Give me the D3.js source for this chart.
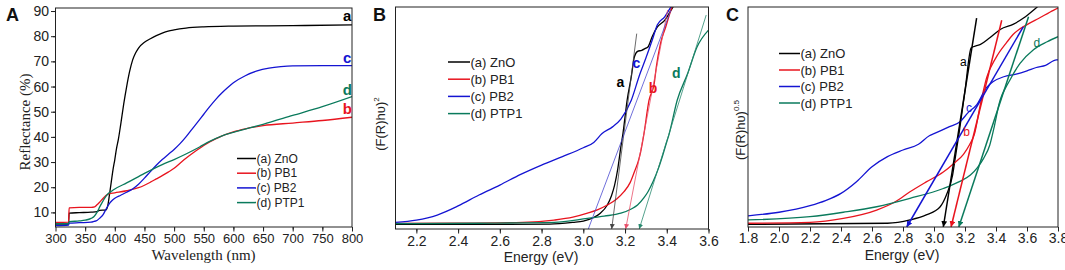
<!DOCTYPE html>
<html><head><meta charset="utf-8">
<script src="https://cdn.jsdelivr.net/npm/d3@7"></script>
<style>body{margin:0;background:#fff;} svg{display:block;}</style>
</head><body>
<svg id="chart" width="1065" height="270"></svg>
<script>
// ---------------- DATA ----------------
const seriesKeys = ["a", "b", "c", "d"];
const legendLabels = ["(a) ZnO", "(b) PB1", "(c) PB2", "(d) PTP1"];

// Panel A: wavelength (nm) vs reflectance (%)
const A_ZnO = [[300,5.4],[322,5.4],[323,9.7],[340,9.9],[360,10.1],[370,10.3],[374,10.8],[385,11],[388,12.5],[391,17],[394,22],[397,27],[400,31],[403,35.5],[406,39],[410,45],[415,53],[420,60],[425,66],[430,70.5],[435,73.3],[440,75.3],[450,77.6],[460,79],[470,80.2],[480,81.2],[490,82],[500,82.5],[520,83.2],[550,83.7],[600,84],[700,84.2],[800,84.5]];
const A_PB1 = [[300,6],[322,6.1],[323,11.8],[340,12],[360,12],[366,12.2],[370,13],[375,14.2],[380,15.5],[385,16.7],[390,17.4],[400,17.8],[420,18.6],[440,19.8],[450,20.8],[460,22],[470,23.3],[480,24.6],[490,26],[500,27.5],[510,29.5],[520,31.5],[530,33.3],[540,35],[550,36.6],[560,38],[570,39.2],[580,40.3],[600,42],[620,43.2],[650,44.5],[700,45.5],[750,46.5],[800,47.8]];
const A_PB2 = [[300,4.8],[322,5],[323,5.7],[340,5.9],[360,6.1],[365,6.4],[370,6.8],[375,7.8],[380,9],[385,11.2],[390,13.2],[395,14.6],[400,15.6],[410,16.8],[420,18],[430,19.3],[440,21.2],[450,23.6],[460,26.2],[470,28.7],[480,31],[490,33],[500,35],[510,37.3],[520,40],[530,43],[540,46],[550,49],[560,52],[570,54.8],[580,57.3],[590,59.5],[600,61.5],[620,64.3],[640,66.2],[660,67.3],[680,67.9],[700,68.2],[750,68.3],[800,68.3]];
const A_PTP1 = [[300,5.5],[322,5.6],[323,6.3],[340,6.6],[350,6.9],[360,7.6],[365,8.4],[370,10],[375,12.4],[380,14.5],[385,16.4],[390,17.7],[395,18.5],[400,19.3],[420,21.7],[450,25.5],[480,29],[500,31],[520,33.2],[543,36],[560,38.2],[580,40.3],[600,41.8],[650,45],[700,48.5],[750,52],[800,56]];
const A_xTicks = [300,350,400,450,500,550,600,650,700,750,800];
const A_yTicks = [10,20,30,40,50,60,70,80,90];
const A_endLabels = [["a",792,88.4],["c",792,71.7],["d",792,59.0],["b",792,51.1]];

// Panel B: energy (eV) vs (F(R)hv)^2 (arbitrary units)
const B_ZnO = [[2.1,2.1],[2.5,2.1],[2.84,2.2],[2.95,3],[3.0,3.6],[3.05,5.2],[3.08,7],[3.115,10.8],[3.135,15],[3.15,19.8],[3.165,27],[3.18,37],[3.19,43],[3.21,58],[3.23,68.6],[3.245,77.6],[3.26,80],[3.28,80.5],[3.3,81.5],[3.31,82],[3.33,86.6],[3.355,91],[3.39,94],[3.43,100],[3.45,103]];
const B_PB1 = [[2.1,2.5],[2.39,2.6],[2.71,3],[2.86,4],[2.95,5.3],[3.02,7.1],[3.07,8.7],[3.115,10.8],[3.16,13.5],[3.195,16.8],[3.225,21],[3.245,25.8],[3.265,31],[3.275,34.8],[3.29,42.5],[3.315,58],[3.34,65.6],[3.35,73],[3.37,83.6],[3.395,91],[3.425,100],[3.45,105]];
const B_PB2 = [[2.1,3],[2.2,4],[2.3,6.3],[2.4,10.4],[2.5,15.3],[2.6,19.8],[2.7,24.6],[2.8,28.8],[2.9,32.6],[3.0,36.6],[3.05,39],[3.09,43],[3.14,46],[3.18,49.5],[3.23,58],[3.27,69.5],[3.3,77],[3.33,85],[3.355,92],[3.39,95.6],[3.42,100],[3.45,104]];
const B_PTP1 = [[2.1,2.4],[2.5,2.6],[2.86,3],[3.02,4.8],[3.1,5.8],[3.18,7.1],[3.23,9],[3.26,10.8],[3.29,14],[3.31,16.8],[3.335,21.5],[3.36,27.3],[3.38,33],[3.4,39.3],[3.41,42.3],[3.45,58],[3.5,70],[3.545,82],[3.6,89.6]];
const B_tangents = {a:[[3.256,88],[3.136,0]], b:[[3.404,98.6],[3.203,0]], c:[[3.42,98.6],[3.024,0]], d:[[3.589,96.4],[3.268,0]]};
const B_xTicks = [2.2,2.4,2.6,2.8,3.0,3.2,3.4,3.6];
const B_labels = [["a",3.178,66.4],["c",3.255,74.7],["b",3.334,63.6],["d",3.446,70.1]];

// Panel C: energy (eV) vs (F(R)hv)^0.5 (arbitrary units)
const C_ZnO = [[1.8,1.2],[2.7,1.7],[2.845,3.2],[2.95,5.5],[3.04,9.2],[3.08,14.5],[3.12,23.6],[3.14,32.7],[3.16,41.8],[3.2,62],[3.24,81.5],[3.27,82.3],[3.3,83],[3.36,86],[3.43,89.9],[3.51,92.1],[3.58,95.1],[3.66,99.7],[3.7,102]];
const C_PB1 = [[1.8,1.7],[2.2,2.1],[2.415,3.9],[2.63,7.7],[2.75,11.5],[2.845,16],[2.95,20.5],[3.06,25],[3.13,29],[3.19,33],[3.23,37.5],[3.26,42],[3.3,56],[3.34,68],[3.4,77],[3.47,84],[3.51,87.5],[3.6,92],[3.68,95],[3.77,98.5],[3.8,99.5]];
const C_PB2 = [[1.8,5.1],[2.0,6.7],[2.2,9.7],[2.3,12],[2.4,15.3],[2.5,20.6],[2.6,27.4],[2.7,32],[2.8,35],[2.9,37.6],[2.97,41.5],[3.0,42.4],[3.1,45.6],[3.17,48],[3.22,52],[3.275,55.5],[3.34,63.5],[3.38,66],[3.45,68.3],[3.53,69.5],[3.6,71],[3.66,72.5],[3.72,73.5],[3.79,76],[3.8,76]];
const C_PTP1 = [[1.8,3.2],[2.2,4.7],[2.415,6.7],[2.63,9.2],[2.845,13],[3.06,17.5],[3.16,20.5],[3.235,23.6],[3.28,27],[3.32,31.2],[3.36,37.3],[3.39,46],[3.42,56],[3.49,66.8],[3.555,74.4],[3.64,80.5],[3.73,84.2],[3.8,86.5]];
const C_tangents = {a:[[3.275,94.9],[3.06,0]], b:[[3.437,94],[3.11,0]], c:[[3.576,91],[2.824,0]], d:[[3.61,95.6],[3.16,0]]};
const C_xTicks = [1.8,2.0,2.2,2.4,2.6,2.8,3.0,3.2,3.4,3.6,3.8];
const C_labels = [["a",3.189,75.1],["b",3.211,43.2],["c",3.226,54],["d",3.663,83.8]];

// ---------------- STYLE / LAYOUT ----------------
const colors = {a:"#000000", b:"#e8141e", c:"#1414d2", d:"#0a7a5c"};
const thinTangentColors = {a:"#444444", b:"#e8506a", c:"#4a4ad0", d:"#2a8a70"};
const SANS = "'Liberation Sans', Arial, sans-serif";
const SERIF = "'Liberation Serif', 'Times New Roman', serif";
const svg = d3.select("#chart");
const defs = svg.append("defs");

function addMarker(id, color, size) {
  defs.append("marker").attr("id", id)
    .attr("viewBox", "0 0 10 10").attr("refX", 10).attr("refY", 5)
    .attr("markerWidth", size).attr("markerHeight", size)
    .attr("markerUnits", "userSpaceOnUse").attr("orient", "auto")
    .append("path").attr("d", "M0,0 L10,5 L0,10 z").attr("fill", color);
}

function panel(o) {
  const x = d3.scaleLinear().domain(o.xDomain).range(o.xRange);
  const y = d3.scaleLinear().domain(o.yDomain).range(o.yRange);
  const g = svg.append("g");
  const clipId = "clip" + o.name;
  defs.append("clipPath").attr("id", clipId).append("rect")
    .attr("x", o.xRange[0]).attr("y", o.yRange[1])
    .attr("width", o.xRange[1] - o.xRange[0]).attr("height", o.yRange[0] - o.yRange[1]);

  // x axis: minor then major
  g.append("g").attr("transform", `translate(0,${o.yRange[0]})`)
    .call(d3.axisBottom(x).tickValues(o.xMinor).tickSize(2.5).tickFormat("").tickSizeOuter(0))
    .call(s => s.select(".domain").remove());
  const xa = g.append("g").attr("transform", `translate(0,${o.yRange[0]})`)
    .call(d3.axisBottom(x).tickValues(o.xTicks).tickSize(4.5).tickPadding(o.xPad).tickSizeOuter(0)
      .tickFormat(o.xFmt));
  xa.select(".domain").remove();
  xa.selectAll("text").attr("font-family", SANS).attr("font-size", o.xFont).attr("fill", "#222");
  if (o.yTicks) {
    g.append("g").attr("transform", `translate(${o.xRange[0]},0)`)
      .call(d3.axisLeft(y).tickValues(o.yMinor).tickSize(2.5).tickFormat("").tickSizeOuter(0))
      .call(s => s.select(".domain").remove());
    const ya = g.append("g").attr("transform", `translate(${o.xRange[0]},0)`)
      .call(d3.axisLeft(y).tickValues(o.yTicks).tickSize(4.5).tickPadding(2).tickSizeOuter(0));
    ya.select(".domain").remove();
    ya.selectAll("text").attr("font-family", SANS).attr("font-size", 14).attr("fill", "#222");
  }
  g.selectAll(".tick line").attr("stroke", "#222");

  const line = d3.line().x(d => x(d[0])).y(d => y(d[1])).curve(d3.curveMonotoneX);
  const plot = g.append("g").attr("clip-path", `url(#${clipId})`);
  seriesKeys.forEach((k, i) => {
    plot.append("path").datum(o.series[i]).attr("d", line)
      .attr("fill", "none").attr("stroke", colors[k]).attr("stroke-width", 1.3)
      .attr("stroke-linejoin", "round");
  });
  if (o.tangents) {
    seriesKeys.forEach(k => {
      const t = o.tangents[k];
      const col = o.thinTangents ? thinTangentColors[k] : colors[k];
      const mid = "arrow" + o.name + k;
      addMarker(mid, col, o.thinTangents ? 5 : 6);
      g.append("line")
        .attr("x1", x(t[0][0])).attr("y1", y(t[0][1]))
        .attr("x2", x(t[1][0])).attr("y2", y(t[1][1]))
        .attr("stroke", col).attr("stroke-width", o.thinTangents ? 0.8 : 1.5)
        .attr("marker-end", (o.thinTangents && k === "c") ? null : `url(#${mid})`);
    });
  }
  // frame
  g.append("rect").attr("x", o.xRange[0]).attr("y", o.yRange[1])
    .attr("width", o.xRange[1] - o.xRange[0]).attr("height", o.yRange[0] - o.yRange[1])
    .attr("fill", "none").attr("stroke", "#222").attr("stroke-width", 1);

  // curve labels
  o.labels.forEach(l => {
    g.append("text").attr("x", x(l[1])).attr("y", y(l[2]))
      .attr("text-anchor", "middle").attr("dominant-baseline", "central")
      .attr("font-family", SANS).attr("font-size", o.labelFont).attr("font-weight", o.labelWeight)
      .attr("fill", colors[l[0]]).text(l[0]);
  });

  // legend
  seriesKeys.forEach((k, i) => {
    const ly = o.legend.y + i * o.legend.dy;
    g.append("line").attr("x1", o.legend.x1).attr("x2", o.legend.x2)
      .attr("y1", ly).attr("y2", ly).attr("stroke", colors[k]).attr("stroke-width", 1.5);
    g.append("text").attr("x", o.legend.x2 + 0.5).attr("y", ly).attr("dominant-baseline", "central")
      .attr("font-family", SANS).attr("font-size", o.legend.font).attr("fill", "#222")
      .text(legendLabels[i]);
  });

  // x title
  g.append("text").attr("x", o.xTitle.x).attr("y", o.xTitle.y).attr("text-anchor", "middle")
    .attr("font-family", o.xTitle.family).attr("font-size", o.xTitle.size).attr("fill", "#222")
    .text(o.xTitle.text);
  // y title
  const yt = g.append("text").attr("transform", `translate(${o.yTitle.x},${o.yTitle.y}) rotate(-90)`)
    .attr("text-anchor", "middle").attr("font-family", o.yTitle.family)
    .attr("font-size", o.yTitle.size).attr("fill", "#222");
  yt.append("tspan").text(o.yTitle.text);
  if (o.yTitle.sup) {
    yt.append("tspan").attr("dy", -6).attr("font-size", o.yTitle.size * 0.62).text(o.yTitle.sup);
  }
  // panel letter
  g.append("text").attr("x", o.letter.x).attr("y", 21).attr("font-family", SANS)
    .attr("font-size", 18).attr("font-weight", "bold").attr("fill", "#111").text(o.letter.t);
}

const range = (a, b, s) => d3.range(Math.round(a / s), Math.round(b / s) + 1).map(v => +(v * s).toFixed(3));

panel({
  name: "A", xDomain: [300, 800], xRange: [55.5, 352], yDomain: [4.2, 91.2], yRange: [227, 8],
  xTicks: A_xTicks, xMinor: range(325, 775, 50), xFmt: d3.format("d"), xFont: 13, xPad: 2.5,
  yTicks: A_yTicks, yMinor: range(5, 85, 10),
  series: [A_ZnO, A_PB1, A_PB2, A_PTP1],
  labels: A_endLabels, labelFont: 15, labelWeight: "bold",
  legend: {x1: 237, x2: 256, y: 158.5, dy: 14.7, font: 12},
  xTitle: {text: "Wavelength (nm)", x: 203.5, y: 260, family: SERIF, size: 15},
  yTitle: {text: "Reflectance (%)", x: 30, y: 122, family: SERIF, size: 15},
  letter: {x: 6, t: "A"}
});

panel({
  name: "B", xDomain: [2.1, 3.6], xRange: [395.5, 708.5], yDomain: [0, 100], yRange: [229, 7],
  xTicks: B_xTicks, xMinor: range(2.1, 3.5, 0.2), xFmt: d3.format(".1f"), xFont: 14, xPad: 2.5,
  series: [B_ZnO, B_PB1, B_PB2, B_PTP1],
  tangents: B_tangents, thinTangents: true,
  labels: B_labels, labelFont: 14, labelWeight: "bold",
  legend: {x1: 448, x2: 470, y: 62, dy: 17.2, font: 13},
  xTitle: {text: "Energy (eV)", x: 541, y: 262, family: SANS, size: 14},
  yTitle: {text: "(F(R)h\u03c5)", x: 385, y: 124, family: SANS, size: 13, sup: "2"},
  letter: {x: 373, t: "B"}
});

panel({
  name: "C", xDomain: [1.8, 3.8], xRange: [748, 1058], yDomain: [0, 100], yRange: [227, 7],
  xTicks: C_xTicks, xMinor: range(1.9, 3.7, 0.2), xFmt: d3.format(".1f"), xFont: 14, xPad: 2,
  series: [C_ZnO, C_PB1, C_PB2, C_PTP1],
  tangents: C_tangents, thinTangents: false,
  labels: C_labels, labelFont: 12, labelWeight: "normal",
  legend: {x1: 779, x2: 800, y: 53.5, dy: 16.5, font: 13},
  xTitle: {text: "Energy (eV)", x: 902, y: 260, family: SANS, size: 14},
  yTitle: {text: "(F(R)h\u03c5)", x: 745, y: 130, family: SANS, size: 13, sup: "0.5"},
  letter: {x: 726, t: "C"}
});
</script>
</body></html>
